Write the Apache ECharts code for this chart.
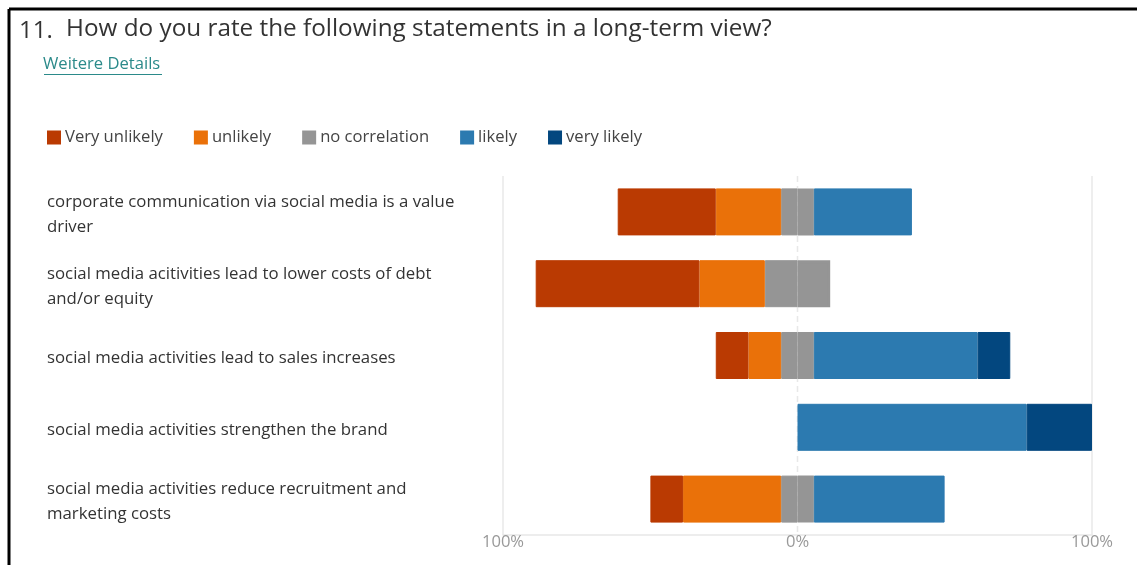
<!DOCTYPE html>
<html>
<head>
<meta charset="utf-8">
<script src="https://cdn.jsdelivr.net/npm/echarts@6/dist/echarts.min.js"></script>
<style>
html,body{margin:0;padding:0;background:#fff;}
#c{width:1137px;height:565px;}
</style>
</head>
<body>
<div id="c"></div>
<script>
const categories = [
  'corporate communication via social media is a value driver',
  'social media acitivities lead to lower costs of debt and/or equity',
  'social media activities lead to sales increases',
  'social media activities strengthen the brand',
  'social media activities reduce recruitment and marketing costs'
];
const seriesNames = ['Very unlikely', 'unlikely', 'no correlation', 'likely', 'very likely'];
const veryUnlikely = [33.3, 55.6, 11.1, 0, 11.1];
const unlikely = [22.2, 22.2, 11.1, 0, 33.3];
const noCorrelation = [11.1, 22.2, 11.1, 0, 11.1];
const likely = [33.3, 0, 55.6, 77.8, 44.4];
const veryLikely = [0, 0, 11.1, 22.2, 0];
const tickLabels = ['100%', '0%', '100%'];

const colors = {
  'Very unlikely': '#BA3A02',
  'unlikely': '#EA7109',
  'no correlation': '#959595',
  'likely': '#2C7AB0',
  'very likely': '#03477F'
};
const FONT = '"Open Sans", "Noto Sans", sans-serif';
const nz = v => (v === 0 ? '-' : v);

function bar(name, data, z, bw) {
  return {
    name: name,
    type: 'bar',
    stack: 'total',
    stackStrategy: 'samesign',
    barWidth: 47,
    z: z,
    itemStyle: { color: colors[name], borderColor: colors[name], borderWidth: bw || 1 },
    emphasis: { disabled: true },
    data: data.map(nz)
  };
}

const chart = echarts.init(document.getElementById('c'));
chart.setOption({
  animation: false,
  textStyle: { fontFamily: FONT },
  graphic: [
    { id: 'bt', type: 'line', shape: { x1: 9, y1: 9, x2: 1137, y2: 9 }, style: { stroke: '#000', lineWidth: 3 } },
    { id: 'bl', type: 'line', shape: { x1: 9, y1: 9, x2: 9, y2: 565 }, style: { stroke: '#000', lineWidth: 3 } },
    { id: 'n', type: 'text', left: 19, top: 19, style: { text: '11.', font: '24px ' + FONT, fill: '#333' } },
    { id: 't', type: 'text', left: 66, top: 17, style: { text: 'How do you rate the following statements in a long-term view?', font: '24.3px ' + FONT, fill: '#333' } },
    { id: 'l', type: 'text', left: 43, top: 56, style: { text: 'Weitere Details', font: '16.6px ' + FONT, fill: '#2B8A8A' } },
    { id: 'u', type: 'line', shape: { x1: 44, y1: 74.5, x2: 162, y2: 74.5 }, style: { stroke: '#2B8A8A', lineWidth: 1 } }
  ],
  legend: {
    data: seriesNames,
    left: 42,
    top: 124,
    icon: 'rect',
    itemWidth: 12,
    itemHeight: 12,
    itemGap: 31,
    textStyle: { fontSize: 16.6, color: '#444', fontFamily: FONT },
    selectedMode: false
  },
  grid: { left: 503, right: 45, top: 176, bottom: 30, containLabel: false },
  xAxis: {
    type: 'value',
    z: 0,
    min: -100,
    max: 100,
    interval: 100,
    axisLine: { show: true, onZero: false, lineStyle: { color: '#E8E8E8', width: 1.5 } },
    axisTick: { show: false },
    splitLine: { show: true, lineStyle: { color: ['#E8E8E8', 'rgba(0,0,0,0)', '#E8E8E8'], width: 1.5 } },
    axisLabel: {
      fontSize: 16.6,
      color: '#999',
      margin: -1,
      fontFamily: FONT,
      formatter: v => tickLabels[Math.round(v / 100) + 1]
    }
  },
  yAxis: {
    type: 'category',
    z: 0,
    inverse: true,
    data: categories,
    axisLine: { show: false, onZero: false },
    axisTick: { show: false },
    splitLine: { show: false },
    axisLabel: {
      align: 'left',
      margin: 456,
      width: 418,
      overflow: 'break',
      fontSize: 16.8,
      lineHeight: 25,
      color: '#333',
      fontFamily: FONT,
      formatter: v => '{a|' + v + '}',
      rich: {
        a: { fontSize: 16.8, lineHeight: 25, color: '#333', fontFamily: FONT, padding: [6, 0, 0, 0] }
      }
    }
  },
  series: [
    bar('no correlation', noCorrelation.map(v => -v / 2), 5, 1),
    bar('unlikely', unlikely.map(v => -v), 6, 1),
    bar('Very unlikely', veryUnlikely.map(v => -v), 6, 1),
    bar('no correlation', noCorrelation.map(v => v / 2), 5, 3),
    bar('likely', likely, 6, 1),
    bar('very likely', veryLikely, 6, 1)
  ]
});

// zero gridline drawn behind the bars, positioned through the axis scale
const x0 = chart.convertToPixel({ xAxisIndex: 0 }, 0);
const gridRect = chart.getModel().getComponent('grid').coordinateSystem.getRect();
chart.setOption({
  graphic: [
    { id: 'zero', type: 'line', z: 0, silent: true,
      shape: { x1: x0, y1: gridRect.y, x2: x0, y2: gridRect.y + gridRect.height },
      style: { stroke: '#E8E8E8', lineWidth: 1.5, lineDash: [6, 4] } }
  ]
});
</script>
</body>
</html>
